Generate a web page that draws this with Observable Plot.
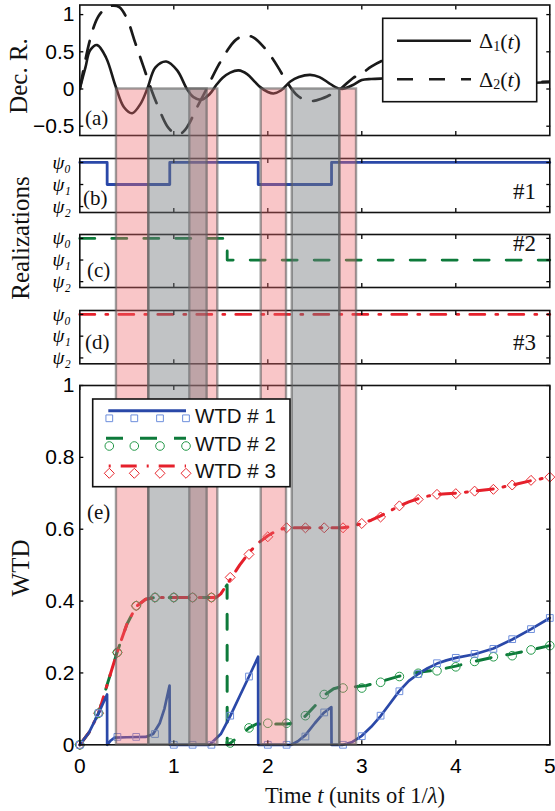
<!DOCTYPE html>
<html><head><meta charset="utf-8">
<script src="https://cdn.jsdelivr.net/npm/d3@7"></script>
<script src="https://cdn.jsdelivr.net/npm/@observablehq/plot@0.6"></script>
<style>
html,body{margin:0;padding:0;background:#fff;}
#wrap{position:relative;width:555px;height:811px;overflow:hidden;background:#fff;}
</style></head><body><div id="wrap"></div>
<script>
// ---------- data ----------
// (a) decision rates
const delta1 = [[0,0],[0.06,0.29],[0.11,0.52],[0.185,0.59],[0.28,0.42],[0.38,0.04],[0.47,-0.245],[0.557,-0.325],[0.646,-0.2],[0.717,0],[0.805,0.29],[0.92,0.37],[1.036,0.25],[1.14,0],[1.21,-0.11],[1.29,-0.145],[1.38,-0.07],[1.45,0.05],[1.52,0.15],[1.6,0.22],[1.69,0.25],[1.78,0.2],[1.86,0.1],[1.92,0.025],[2.0,-0.04],[2.06,-0.06],[2.14,-0.02],[2.24,0.1],[2.33,0.16],[2.45,0.19],[2.55,0.16],[2.65,0.08],[2.72,0.025],[2.79,0],[2.9,0.05],[3.0,0.12],[3.1,0.135],[3.2,0.14],[3.35,0.14],[3.5,0.12],[3.7,0.06],[3.9,0.05],[4.1,0.08],[4.3,0.11],[4.5,0.1],[4.7,0.08],[4.85,0.085],[5,0.09]];
const delta2 = [[0,0],[0.05,0.33],[0.1,0.62],[0.15,0.84],[0.2,0.98],[0.27,1.08],[0.35,1.12],[0.42,1.1],[0.5,0.95],[0.59,0.62],[0.68,0.29],[0.77,-0.04],[0.84,-0.26],[0.93,-0.5],[1.0,-0.59],[1.06,-0.61],[1.12,-0.55],[1.17,-0.45],[1.23,-0.29],[1.34,-0.02],[1.41,0.16],[1.48,0.33],[1.56,0.5],[1.66,0.66],[1.76,0.72],[1.85,0.69],[1.96,0.56],[2.05,0.41],[2.12,0.27],[2.2,0.1],[2.3,-0.07],[2.4,-0.15],[2.49,-0.16],[2.57,-0.13],[2.63,-0.1],[2.72,-0.04],[2.79,0.02],[2.91,0.15],[3.0,0.21],[3.1,0.3],[3.2,0.37],[3.35,0.43],[3.5,0.45],[3.7,0.38],[3.9,0.25],[4.1,0.12],[4.3,0.05],[4.5,0.04],[4.7,0.07],[4.85,0.09],[5,0.1]];
// (b)-(d) realizations: [time, state index]
const real1 = [[0,0],[0.291,1],[0.957,0],[1.898,1],[2.678,0],[5,0]];
const real2 = [[0,0],[1.568,1],[5,1]];
const real3 = [[0,0],[5,0]];
const stateLabels = ["ψ₀","ψ₁","ψ₂"];
// shaded intervals
const pinkStart = [0.39, 1.17, 1.93, 2.766];
const pinkEnd   = [0.734, 1.468, 2.199, 2.944];
const grayStart = [0.734, 2.26];
const grayEnd   = [1.355, 2.766];
// (e) waiting-time distributions (lines)
const wtd1Line = [[0,0],[0.1,0.035],[0.2,0.088],[0.29,0.14],[0.291,0],[0.33,0.012],[0.37,0.02],[0.5,0.021],[0.7,0.022],[0.78,0.03],[0.85,0.06],[0.9,0.1],[0.955,0.165],[0.957,0],[1.0,0],[1.38,0],[1.5,0.03],[1.6,0.08],[1.7,0.135],[1.8,0.19],[1.897,0.245],[1.898,0],[2.25,0],[2.32,0.01],[2.4,0.027],[2.5,0.06],[2.6,0.09],[2.676,0.105],[2.678,0],[2.8,0],[2.9,0.008],[3.0,0.025],[3.1,0.05],[3.2,0.08],[3.3,0.115],[3.4,0.15],[3.5,0.178],[3.6,0.197],[3.7,0.213],[3.8,0.226],[3.9,0.235],[4.0,0.242],[4.2,0.252],[4.4,0.268],[4.6,0.293],[4.8,0.322],[5,0.353]];
const wtd2Line = [[0,0],[0.1,0.035],[0.2,0.088],[0.3,0.175],[0.4,0.26],[0.5,0.335],[0.6,0.385],[0.7,0.405],[0.8,0.41],[1.45,0.41],[1.5,0.42],[1.567,0.445],[1.568,0],[1.6,0.004],[1.7,0.025],[1.8,0.047],[1.88,0.058],[2.2,0.058],[2.26,0.06],[2.3,0.064],[2.4,0.08],[2.5,0.108],[2.6,0.138],[2.7,0.156],[2.76,0.16],[2.95,0.162],[3.05,0.165],[3.2,0.176],[3.4,0.191],[3.6,0.202],[3.8,0.208],[4.0,0.219],[4.2,0.232],[4.4,0.244],[4.6,0.253],[4.8,0.264],[5,0.276]];
const wtd3Line = [[0,0],[0.1,0.035],[0.2,0.088],[0.3,0.175],[0.4,0.26],[0.5,0.335],[0.6,0.385],[0.7,0.405],[0.8,0.41],[1.45,0.41],[1.5,0.42],[1.6,0.46],[1.7,0.5],[1.8,0.535],[1.9,0.562],[2.0,0.582],[2.1,0.597],[2.2,0.604],[2.8,0.604],[2.9,0.608],[3.0,0.616],[3.1,0.625],[3.2,0.637],[3.3,0.651],[3.4,0.665],[3.5,0.676],[3.6,0.685],[3.7,0.692],[3.8,0.697],[3.9,0.699],[4.0,0.7],[4.2,0.706],[4.4,0.712],[4.6,0.723],[4.8,0.735],[5,0.745]];
// (e) simulated markers
const markerT  = [0,0.2,0.4,0.6,0.8,1.0,1.2,1.4,1.6,1.8,2.0,2.2,2.4,2.6,2.8,3.0,3.2,3.4,3.6,3.8,4.0,4.2,4.4,4.6,4.8,5.0];
const wtd1Sim  = [0,0.088,0.022,0.022,0.03,0,0,0,0.081,0.19,0,0,0.023,0.09,0,0.024,0.081,0.149,0.197,0.227,0.242,0.253,0.267,0.294,0.322,0.353];
const wtd2Sim  = [0,0.088,0.257,0.387,0.41,0.41,0.41,0.41,0.005,0.047,0.06,0.06,0.081,0.14,0.158,0.158,0.174,0.19,0.199,0.206,0.217,0.232,0.245,0.248,0.264,0.276];
const wtd3Sim  = [0,0.088,0.257,0.387,0.41,0.41,0.41,0.41,0.466,0.53,0.579,0.604,0.604,0.604,0.604,0.616,0.634,0.665,0.683,0.697,0.699,0.706,0.711,0.723,0.736,0.745];
const xTicks = [0,1,2,3,4,5];
const yTicksA = [-0.5,0,0.5,1];
const yTicksE = [0,0.2,0.4,0.6,0.8,1];

// ---------- style ----------
const W = 555, ML = 79.3, MR = 5.7;
const SANS = "'Liberation Sans', Arial, Helvetica, sans-serif";
const SERIF = "'Liberation Serif', 'Times New Roman', serif";
const BLUE = "#2a48a8", GREEN = "#0d7a3a", RED = "#e5202b", BLK = "#1a1a1a";
const BLUE_M = "#6e8fdc", GREEN_M = "#25994a", RED_M = "#e8282f";
const fmt = d3.format("~g");
const wrap = document.getElementById("wrap");
const pts = a => a.map(([t, v]) => ({t, v}));
function place(el, top) {
  el.style.position = "absolute"; el.style.left = "0px"; el.style.top = top + "px";
  el.style.background = "transparent"; el.style.overflow = "visible";
  wrap.appendChild(el); return el;
}
function box(yt, xt, o = {}) {
  return [
    Plot.axisY({anchor: "left", ticks: yt, tickSize: -4, tickPadding: o.pad ?? 9.3, tickFormat: o.yfmt ?? fmt, label: null, strokeWidth: 1.3,
      fontSize: o.fs ?? 21, fontFamily: o.ff ?? SANS, fontStyle: o.fst ?? "normal"}),
    Plot.axisY({anchor: "right", ticks: yt, tickSize: -4, fill: "none", label: null, strokeWidth: 1.3}),
    o.xlabels
      ? Plot.axisX({anchor: "bottom", ticks: xt, tickSize: -4, tickPadding: 17.5, tickFormat: fmt, label: null, strokeWidth: 1.3, fontSize: 21, fontFamily: SANS})
      : Plot.axisX({anchor: "bottom", ticks: xt, tickSize: -4, fill: "none", label: null, strokeWidth: 1.3}),
    Plot.axisX({anchor: "top", ticks: xt, tickSize: -4, fill: "none", label: null, strokeWidth: 1.3}),
    Plot.frame({stroke: "#111", strokeWidth: 1.6})
  ];
}

// ---------- (a) ----------
const pa = Plot.plot({
  width: W, height: 143, marginTop: 4.5, marginBottom: 8, marginLeft: ML, marginRight: MR,
  style: {background: "transparent", overflow: "visible"},
  x: {domain: [0, 5]}, y: {domain: [-0.625, 1.129]},
  marks: [
    Plot.line(pts(delta2), {x: "t", y: "v", stroke: BLK, strokeWidth: 2.7, strokeDasharray: "18,13", curve: "catmull-rom", clip: true}),
    Plot.line(pts(delta1), {x: "t", y: "v", stroke: BLK, strokeWidth: 2.6, curve: "catmull-rom", clip: true}),
    ...box(yTicksA, [1,2,3,4])
  ]
});
place(pa, 0);

// ---------- (b)-(d) ----------
function realPanel(data, color, dash, top, h) {
  const p = Plot.plot({
    width: W, height: 8 + h + 8, marginTop: 8, marginBottom: 8, marginLeft: ML, marginRight: MR,
    style: {background: "transparent", overflow: "visible"},
    x: {domain: [0, 5]}, y: {domain: [-0.18, 2.27], reverse: true},
    marks: [
      Plot.line(pts(data), {x: "t", y: "v", stroke: color, strokeWidth: 2.8, strokeDasharray: dash, curve: "step-after"}),
      ...box([0,1,2], [1,2,3,4], {pad: 13, yfmt: i => stateLabels[i], fs: 19, ff: SERIF, fst: "italic"})
    ]
  });
  return place(p, top - 8);
}
realPanel(real1, BLUE, null, 157.7, 54);
realPanel(real2, GREEN, "15,17", 234.3, 53);
realPanel(real3, RED, "15,11,2,11", 310, 53.3);

// ---------- (e) ----------
const eTop = 373;
const pe = Plot.plot({
  width: W, height: 12 + 359.3 + 50, marginTop: 12, marginBottom: 50, marginLeft: ML, marginRight: MR,
  style: {background: "transparent", overflow: "visible"},
  x: {domain: [0, 5]}, y: {domain: [0, 1]},
  marks: [
    Plot.line(pts(wtd2Line), {x: "t", y: "v", stroke: GREEN, strokeWidth: 3, strokeDasharray: "15,16"}),
    Plot.line(pts(wtd3Line), {x: "t", y: "v", stroke: RED, strokeWidth: 3, strokeDasharray: "16,10,2,10"}),
    Plot.line(pts(wtd1Line), {x: "t", y: "v", stroke: BLUE, strokeWidth: 2.7}),
    Plot.dot(markerT, {x: d => d, y: (d, i) => wtd3Sim[i], symbol: "diamond2", r: 4.5, stroke: RED_M, strokeWidth: 1, fill: "none"}),
    Plot.dot(markerT, {x: d => d, y: (d, i) => wtd2Sim[i], symbol: "circle", r: 4.3, stroke: GREEN_M, strokeWidth: 1, fill: "none"}),
    Plot.dot(markerT, {x: d => d, y: (d, i) => wtd1Sim[i], symbol: "square", r: 3.8, stroke: BLUE_M, strokeWidth: 1, fill: "none"}),
    ...box(yTicksE, xTicks, {xlabels: true})
  ]
});
place(pe, eTop);

// ---------- shaded intervals overlay ----------
const bandTop = pa.scale("y").apply(0);
const bandBottom = eTop + pe.scale("y").apply(0);
const pinks = pinkStart.map((s, i) => ({s, e: pinkEnd[i]}));
const grays = grayStart.map((s, i) => ({s, e: grayEnd[i]}));
const ov = Plot.plot({
  width: W, height: 811, marginTop: bandTop, marginBottom: 811 - bandBottom, marginLeft: ML, marginRight: MR,
  style: {background: "transparent", overflow: "visible"},
  x: {domain: [0, 5], axis: null}, y: {domain: [0, 1], axis: null},
  marks: [
    Plot.rect(pinks, {x1: "s", x2: "e", y1: 0, y2: 1, fill: "rgb(238,105,110)", fillOpacity: 0.38, stroke: "rgb(95,95,95)", strokeOpacity: 0.6, strokeWidth: 2.4}),
    Plot.rect(grays, {x1: "s", x2: "e", y1: 0, y2: 1, fill: "rgb(118,121,127)", fillOpacity: 0.45, stroke: "rgb(95,95,95)", strokeOpacity: 0.6, strokeWidth: 2.4})
  ]
});
ov.style.pointerEvents = "none";
place(ov, 0);

// ---------- labels & legends ----------
const ann = d3.create("svg").attr("width", W).attr("height", 811).style("pointer-events", "none");
function txt(x, y, s, o = {}) {
  const t = ann.append("text").attr("x", x).attr("y", y).text(s)
    .attr("font-family", o.ff ?? SERIF).attr("font-size", o.fs ?? 21)
    .attr("text-anchor", o.anchor ?? "start").attr("dominant-baseline", "central").attr("fill", "#111");
  if (o.rot) t.attr("transform", `rotate(-90 ${x} ${y})`).attr("text-anchor", "middle");
  return t;
}
txt(18, 76, "Dec.  R.", {fs: 25, rot: true});
txt(20, 238, "Realizations", {fs: 25, rot: true});
txt(20, 568, "WTD", {fs: 25, rot: true});
txt(85, 118, "(a)");
txt(83, 198, "(b)");
txt(87, 270, "(c)");
txt(85, 342, "(d)");
txt(87, 512, "(e)");
txt(536, 191, "#1", {fs: 23, anchor: "end"});
txt(536, 243, "#2", {fs: 23, anchor: "end"});
txt(536, 342, "#3", {fs: 23, anchor: "end"});
const tl = txt(355, 795, "", {fs: 22.5, anchor: "middle"});
tl.append("tspan").text("Time ");
tl.append("tspan").attr("font-style", "italic").text("t");
tl.append("tspan").text(" (units of 1/");
tl.append("tspan").attr("font-style", "italic").text("λ");
tl.append("tspan").text(")");

// legend (a)
ann.append("rect").attr("x", 382.7).attr("y", 18.3).attr("width", 154).attr("height", 83.4)
  .attr("fill", "#fff").attr("stroke", "#111").attr("stroke-width", 1.6);
ann.append("line").attr("x1", 397).attr("x2", 471).attr("y1", 40.7).attr("y2", 40.7).attr("stroke", BLK).attr("stroke-width", 2.6);
ann.append("line").attr("x1", 397).attr("x2", 471).attr("y1", 79.3).attr("y2", 79.3).attr("stroke", BLK).attr("stroke-width", 2.6).attr("stroke-dasharray", "16,16");
[["1", 40.7], ["2", 79.3]].forEach(([k, y]) => {
  const t = txt(479, y, "Δ", {fs: 22});
  t.append("tspan").attr("font-size", 14).attr("dy", 5).text(k);
  t.append("tspan").attr("dy", -5).text("(");
  t.append("tspan").attr("font-style", "italic").text("t");
  t.append("tspan").text(")");
});

// legend (e)
ann.append("rect").attr("x", 92.7).attr("y", 399).attr("width", 197.3).attr("height", 87.7)
  .attr("fill", "#fff").attr("stroke", "#111").attr("stroke-width", 1.6);
const legRows = [
  {label: "WTD # 1", ly: 410.7, my: 418.3, color: BLUE, mcolor: BLUE_M, dash: null, off: 0, sym: d3.symbolSquare, r: 3.8, ty: 415.7},
  {label: "WTD # 2", ly: 438.3, my: 446, color: GREEN, mcolor: GREEN_M, dash: "17,17", off: 0, sym: d3.symbolCircle, r: 4.3, ty: 443.3},
  {label: "WTD # 3", ly: 466, my: 473.3, color: RED, mcolor: RED_M, dash: "16,10,2,10", off: 23.3, sym: d3.symbolDiamond2, r: 4.5, ty: 470.7}
];
legRows.forEach(r => {
  const l = ann.append("line").attr("x1", r.dash ? 106 : 108.3).attr("x2", 186).attr("y1", r.ly).attr("y2", r.ly)
    .attr("stroke", r.color).attr("stroke-width", 3);
  if (r.dash) l.attr("stroke-dasharray", r.dash).attr("stroke-dashoffset", r.off);
  [109.3, 134.3, 160, 186].forEach(x => {
    ann.append("path").attr("d", d3.symbol(r.sym, Math.PI * r.r * r.r)())
      .attr("transform", `translate(${x},${r.my})`).attr("fill", "none").attr("stroke", r.mcolor).attr("stroke-width", 1);
  });
  txt(195, r.ty, r.label, {ff: SANS, fs: 20.5});
});
place(ann.node(), 0);
</script></body></html>
